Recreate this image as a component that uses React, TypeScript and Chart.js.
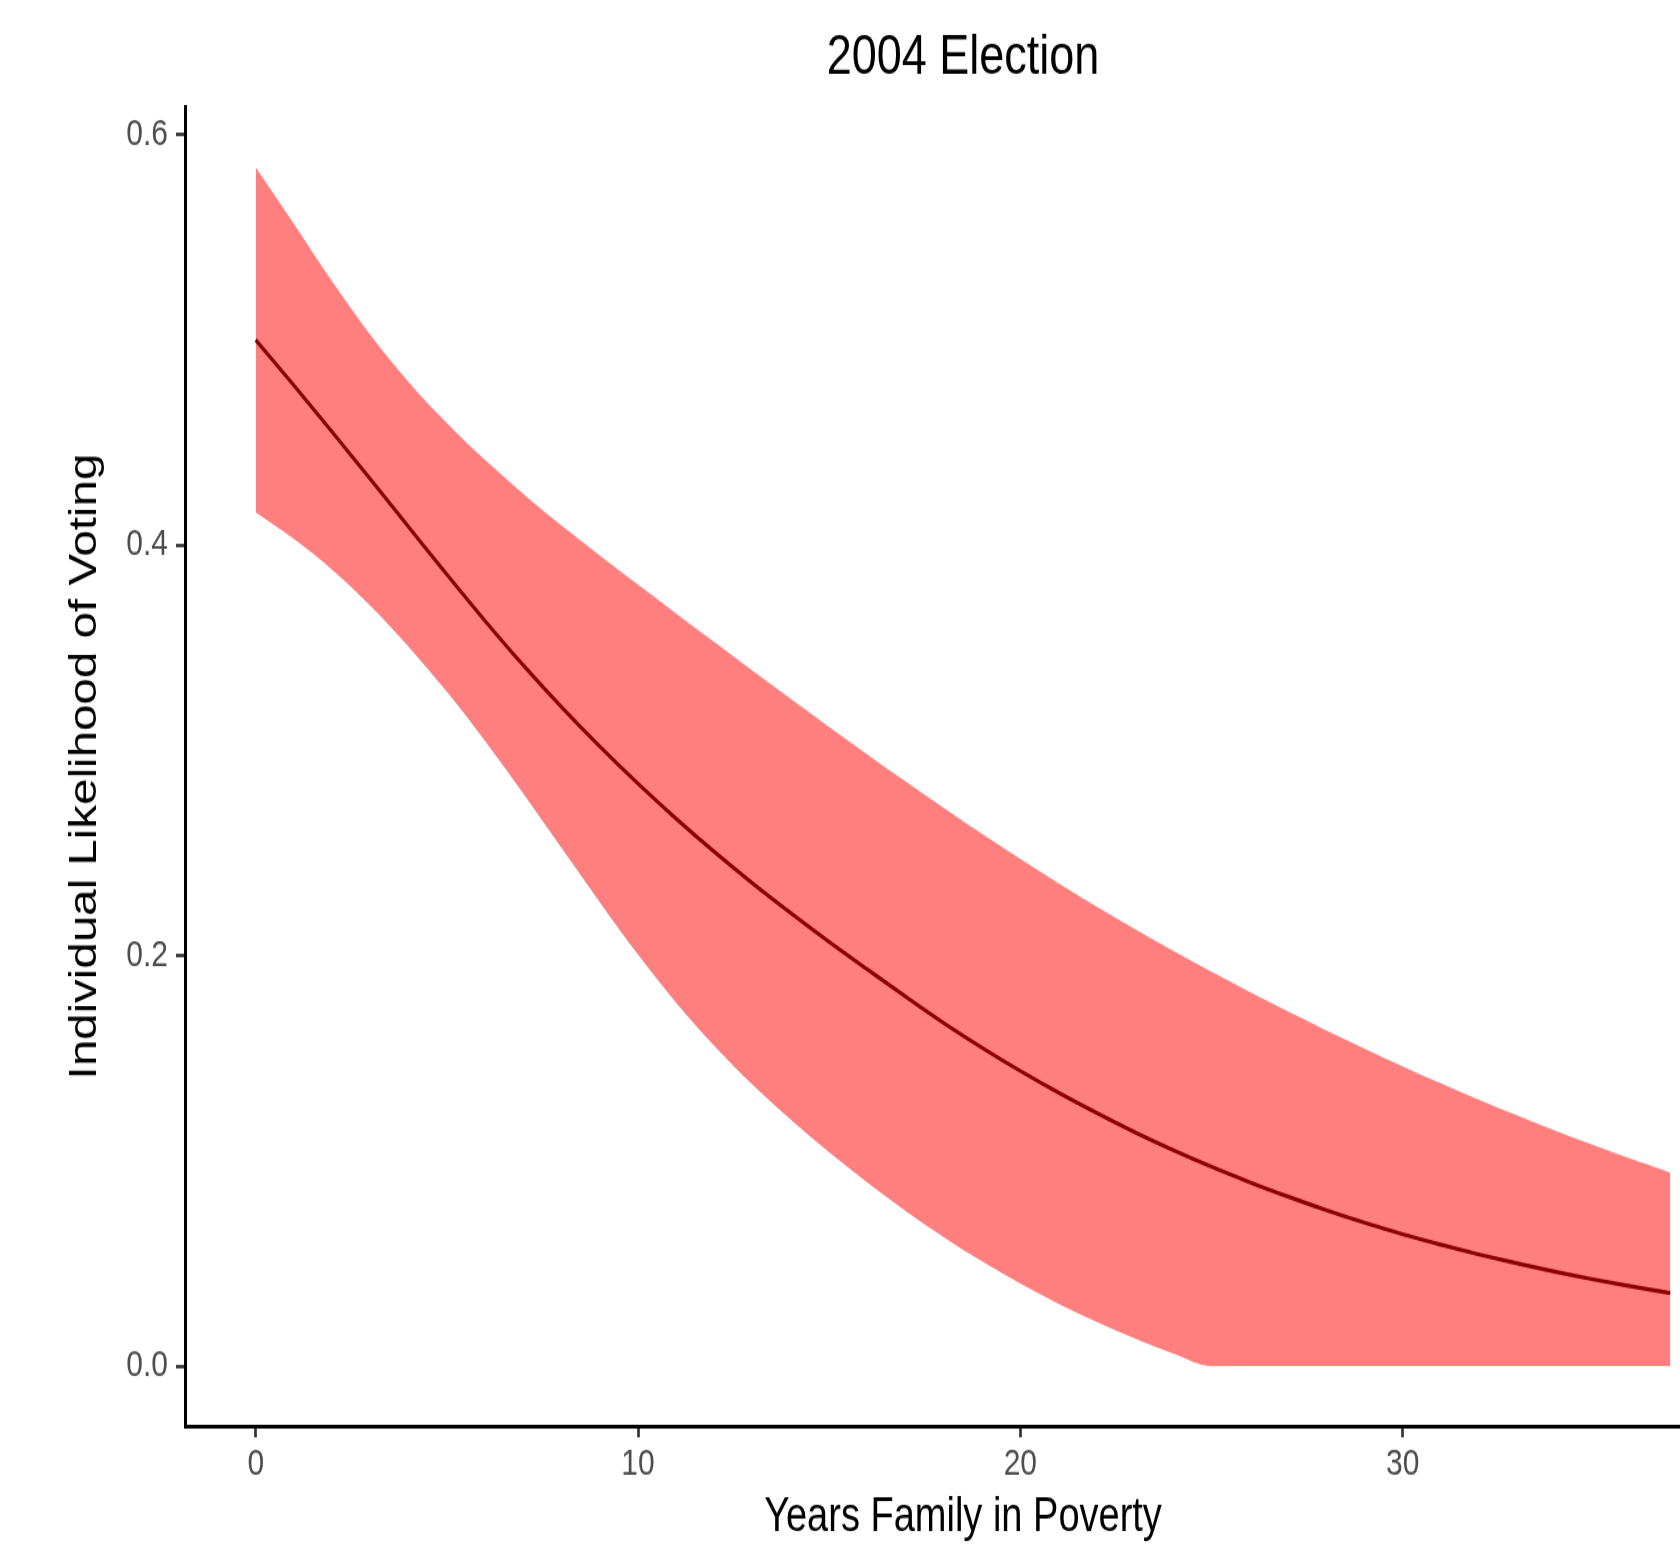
import React, { useEffect, useRef } from "react";
import { Chart, registerables } from "chart.js";

Chart.register(...registerables);

// ---- data ----
const years = [
  0, 1, 2, 3, 4, 5, 6, 7, 8, 9, 10, 11, 12, 13, 14, 15, 16, 17, 18, 19, 20,
  21, 22, 23, 24, 25, 26, 27, 28, 29, 30, 31, 32, 33, 34, 35, 36, 37,
];
const fitted = [
  0.5, 0.4778, 0.4552, 0.4322, 0.4089, 0.3857, 0.3631, 0.3415, 0.3211, 0.3019,
  0.2838, 0.2667, 0.2505, 0.2352, 0.2207, 0.2067, 0.1933, 0.18, 0.1671, 0.1551,
  0.1438, 0.1332, 0.1233, 0.1139, 0.1052, 0.0971, 0.0896, 0.0826, 0.076,
  0.0699, 0.0643, 0.0592, 0.0544, 0.05, 0.0459, 0.0422, 0.0388, 0.0356,
];
const upperCI = [
  0.584, 0.5565, 0.5285, 0.5025, 0.4795, 0.4595, 0.4415, 0.425, 0.4095, 0.395,
  0.3808, 0.3667, 0.3527, 0.3388, 0.325, 0.3114, 0.298, 0.2848, 0.2719, 0.2593,
  0.2471, 0.2353, 0.2239, 0.2129, 0.2023, 0.1921, 0.1823, 0.1728, 0.1636,
  0.1547, 0.1461, 0.1378, 0.1298, 0.1221, 0.1147, 0.1076, 0.1008, 0.0943,
];
const lowerCI = [
  0.416, 0.403, 0.388, 0.3705, 0.3505, 0.3285, 0.3045, 0.279, 0.2525, 0.226,
  0.2005, 0.177, 0.156, 0.137, 0.12, 0.1042, 0.0894, 0.0756, 0.0628, 0.051,
  0.0402, 0.0304, 0.0215, 0.0134, 0.0061, 0, 0, 0, 0, 0, 0, 0, 0, 0, 0, 0, 0, 0,
];
const xTicks = [0, 10, 20, 30];
const xTickLabels = ["0", "10", "20", "30"];
const yTicks = [0, 0.2, 0.4, 0.6];
const yTickLabels = ["0.0", "0.2", "0.4", "0.6"];

const chartTitle = "2004 Election";
const xTitle = "Years Family in Poverty";
const yTitle = "Individual Likelihood of Voting";

const FONT = "'Liberation Sans', Arial, Helvetica, sans-serif";

// canvas is drawn at a smaller internal height and shown stretched vertically,
// like the reference; the right side is cropped by the wrapper
const CANVAS_W = 1741;
const CANVAS_H = 1237;
const VIEW_W = 1680;
const VIEW_H = 1546;

export default function App() {
  const ref = useRef<HTMLCanvasElement>(null);

  useEffect(() => {
    if (!ref.current) return;
    const pts = (ys: number[]) => years.map((x, i) => ({ x, y: ys[i] }));
    const chart = new Chart(ref.current, {
      type: "line",
      data: {
        datasets: [
          {
            label: "Predicted",
            data: pts(fitted),
            borderColor: "#8B0000",
            borderWidth: 3.2,
            pointRadius: 0,
            fill: false,
            cubicInterpolationMode: "monotone",
          },
          {
            label: "Upper",
            data: pts(upperCI),
            borderColor: "rgba(0,0,0,0)",
            borderWidth: 0,
            backgroundColor: "#FF7F7F",
            pointRadius: 0,
            fill: "+1",
            cubicInterpolationMode: "monotone",
          },
          {
            label: "Lower",
            data: pts(lowerCI),
            borderColor: "rgba(0,0,0,0)",
            borderWidth: 0,
            pointRadius: 0,
            fill: false,
            cubicInterpolationMode: "monotone",
          },
        ],
      },
      options: {
        responsive: false,
        animation: false,
        devicePixelRatio: 1,
        layout: { padding: 0 },
        plugins: {
          legend: { display: false },
          tooltip: { enabled: false },
          title: {
            display: true,
            text: chartTitle,
            fullSize: false,
            color: "#000000",
            font: { family: FONT, size: 45, weight: "normal", lineHeight: 1.2 },
            padding: { top: 20, bottom: 11.6 },
          },
        },
        scales: {
          x: {
            type: "linear",
            position: "bottom",
            min: -1.85,
            max: 38.85,
            afterBuildTicks: (s: any) => {
              s.ticks = xTicks.map((v) => ({ value: v }));
            },
            afterFit: (s: any) => {
              s.height = 96;
            },
            grid: {
              display: true,
              drawOnChartArea: false,
              drawTicks: true,
              tickLength: 9,
              tickWidth: 2.7,
              tickColor: "#333333",
            },
            border: { display: true, color: "#000000", width: 3 },
            ticks: {
              autoSkip: false,
              maxRotation: 0,
              padding: 4,
              color: "#4D4D4D",
              font: { family: FONT, size: 30 },
              callback: (v: any) => {
                const i = xTicks.indexOf(Number(v));
                return i >= 0 ? xTickLabels[i] : "";
              },
            },
            title: {
              display: true,
              text: xTitle,
              color: "#000000",
              font: { family: FONT, size: 38, lineHeight: 1.2 },
              padding: { top: 0, bottom: 0 },
            },
          },
          y: {
            type: "linear",
            position: "left",
            min: -0.0292,
            max: 0.6135,
            afterBuildTicks: (s: any) => {
              s.ticks = yTicks.map((v) => ({ value: v }));
            },
            afterFit: (s: any) => {
              s.width = 185;
            },
            grid: {
              display: true,
              drawOnChartArea: false,
              drawTicks: true,
              tickLength: 9,
              tickWidth: 2.7,
              tickColor: "#333333",
            },
            border: { display: true, color: "#000000", width: 3 },
            ticks: {
              autoSkip: false,
              padding: 8,
              color: "#4D4D4D",
              font: { family: FONT, size: 30 },
              callback: (v: any) => {
                const i = yTicks.findIndex((t) => Math.abs(t - Number(v)) < 1e-9);
                return i >= 0 ? yTickLabels[i] : "";
              },
            },
            title: {
              display: true,
              text: yTitle,
              color: "#000000",
              font: { family: FONT, size: 38, lineHeight: 1.2 },
              padding: { top: 63, bottom: 0 },
            },
          },
        },
      },
    } as any);
    return () => chart.destroy();
  }, []);

  return (
    <div
      style={{
        position: "absolute",
        left: 0,
        top: 0,
        width: VIEW_W + "px",
        height: VIEW_H + "px",
        overflow: "hidden",
        background: "#ffffff",
      }}
    >
      <canvas
        ref={ref}
        width={CANVAS_W}
        height={CANVAS_H}
        style={{ display: "block", width: CANVAS_W + "px", height: VIEW_H + "px" }}
      />
    </div>
  );
}
